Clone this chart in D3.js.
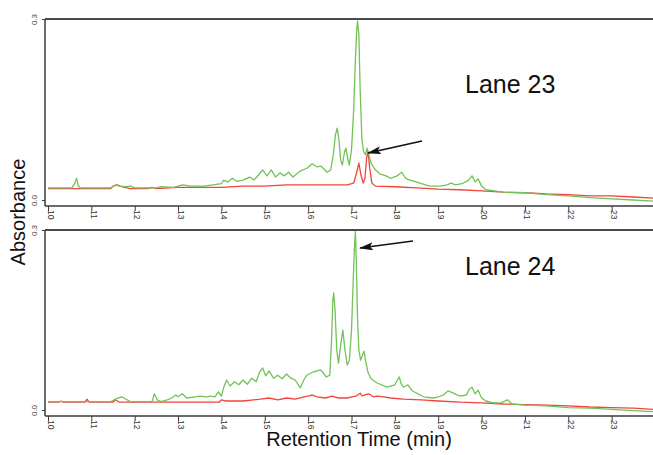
<!DOCTYPE html>
<html><head><meta charset="utf-8">
<script src="https://cdn.jsdelivr.net/npm/d3@7"></script>
<style>body{margin:0;background:#fff}svg{display:block;font-family:"Liberation Sans",Arial,sans-serif}</style>
</head><body><svg id="c" width="653" height="455"></svg>
<script>
const xTicks = [10,11,12,13,14,15,16,17,18,19,20,21,22,23];
const yTicks = [0.0, 0.3];
const laneLabels = ["Lane 23", "Lane 24"];

const l23GreenT = [10.0,10.55,10.62,10.66,10.70,10.75,11.45,11.55,11.65,11.8,11.9,12.0,12.5,12.6,12.9,13.0,13.1,13.3,13.6,13.8,14.0,14.05,14.15,14.25,14.35,14.5,14.65,14.75,14.85,14.95,15.05,15.15,15.25,15.35,15.45,15.55,15.65,15.82,15.98,16.09,16.2,16.3,16.44,16.52,16.58,16.63,16.67,16.71,16.75,16.79,16.84,16.87,16.91,16.95,17.0,17.05,17.09,17.12,17.14,17.17,17.2,17.24,17.28,17.32,17.36,17.4,17.45,17.55,17.66,17.8,17.9,18.05,18.16,18.25,18.35,18.58,18.8,19.04,19.2,19.3,19.4,19.55,19.7,19.78,19.85,19.92,20.0,20.1,20.5,21.0,21.5,22.0,22.5,23.0,23.5,24.0];
const l23GreenV = [0.020,0.020,0.028,0.036,0.023,0.020,0.020,0.025,0.023,0.022,0.023,0.020,0.020,0.022,0.021,0.023,0.025,0.023,0.023,0.025,0.027,0.033,0.030,0.036,0.031,0.033,0.038,0.033,0.041,0.050,0.040,0.050,0.038,0.045,0.040,0.046,0.038,0.048,0.053,0.060,0.055,0.056,0.046,0.050,0.075,0.108,0.119,0.100,0.066,0.058,0.080,0.086,0.070,0.058,0.083,0.149,0.232,0.282,0.297,0.274,0.182,0.100,0.080,0.075,0.086,0.075,0.061,0.050,0.043,0.040,0.036,0.040,0.046,0.036,0.033,0.028,0.023,0.023,0.025,0.028,0.025,0.027,0.033,0.040,0.030,0.035,0.023,0.017,0.013,0.012,0.009,0.007,0.004,0.002,0.000,-0.002];
const l23RedT = [10.0,11.45,11.5,11.6,11.7,11.9,12.3,12.4,12.5,13.0,13.5,14.0,14.5,15.0,15.5,16.0,16.5,16.9,17.05,17.12,17.17,17.22,17.27,17.31,17.35,17.38,17.42,17.47,17.55,18.0,18.5,19.0,19.5,20.0,20.5,21.0,21.5,22.0,22.5,23.0,23.5,24.0];
const l23RedV = [0.019,0.019,0.023,0.025,0.022,0.019,0.019,0.021,0.019,0.021,0.021,0.021,0.023,0.023,0.025,0.025,0.025,0.025,0.028,0.046,0.061,0.041,0.028,0.036,0.070,0.081,0.053,0.028,0.023,0.022,0.020,0.018,0.017,0.015,0.013,0.012,0.010,0.009,0.007,0.007,0.005,0.003];

const l24GreenT = [10.0,11.45,11.55,11.7,11.8,11.9,12.4,12.45,12.52,12.6,12.75,12.85,12.95,13.0,13.1,13.2,13.4,13.5,13.65,13.75,13.85,13.93,14.0,14.05,14.12,14.2,14.3,14.4,14.5,14.6,14.7,14.8,14.88,14.95,15.02,15.1,15.2,15.3,15.4,15.5,15.6,15.7,15.82,15.9,15.97,16.1,16.2,16.28,16.35,16.42,16.5,16.54,16.57,16.59,16.62,16.66,16.7,16.75,16.8,16.85,16.9,16.95,17.0,17.04,17.07,17.09,17.11,17.14,17.17,17.21,17.26,17.29,17.33,17.38,17.45,17.59,17.82,18.0,18.06,18.1,18.15,18.2,18.3,18.4,18.66,18.89,19.0,19.12,19.23,19.35,19.5,19.65,19.72,19.78,19.85,19.92,20.0,20.1,20.27,20.45,20.6,20.7,21.0,21.5,22.0,22.5,23.0,23.5,24.0];
const l24GreenV = [0.014,0.014,0.018,0.022,0.018,0.014,0.014,0.027,0.017,0.014,0.017,0.020,0.025,0.022,0.027,0.020,0.022,0.023,0.022,0.023,0.022,0.030,0.023,0.037,0.050,0.040,0.047,0.042,0.050,0.043,0.053,0.047,0.063,0.070,0.057,0.065,0.053,0.058,0.052,0.060,0.053,0.050,0.037,0.050,0.058,0.063,0.065,0.067,0.062,0.055,0.058,0.117,0.183,0.195,0.167,0.100,0.078,0.108,0.133,0.100,0.075,0.083,0.133,0.217,0.275,0.298,0.250,0.150,0.100,0.083,0.093,0.098,0.080,0.063,0.052,0.045,0.038,0.042,0.050,0.055,0.043,0.038,0.042,0.032,0.022,0.020,0.022,0.025,0.032,0.028,0.023,0.025,0.035,0.038,0.027,0.033,0.020,0.015,0.012,0.012,0.017,0.010,0.008,0.007,0.004,0.003,0.001,-0.001,-0.003];
const l24RedT = [10.0,10.25,10.3,10.35,10.85,10.9,10.95,11.5,11.55,11.65,13.95,14.0,14.1,14.5,14.9,15.1,15.3,15.5,15.7,15.9,16.0,16.1,16.2,16.4,16.55,16.7,16.9,17.0,17.1,17.2,17.25,17.3,17.4,17.5,17.6,17.75,17.9,18.2,18.6,19.0,19.5,20.0,20.5,21.0,21.5,22.0,22.5,23.0,23.5,24.0];
const l24RedV = [0.013,0.013,0.015,0.013,0.013,0.018,0.013,0.013,0.017,0.013,0.013,0.017,0.015,0.015,0.018,0.020,0.017,0.020,0.018,0.022,0.023,0.025,0.022,0.020,0.023,0.020,0.020,0.022,0.023,0.028,0.023,0.025,0.027,0.022,0.023,0.022,0.020,0.018,0.017,0.015,0.013,0.012,0.010,0.009,0.008,0.007,0.005,0.004,0.003,0.001];

const svg = d3.select("#c");
const W = 653;
const frameX = 45;
const x = d3.scaleLinear().domain([10, 24]).range([48, 655]);
const GREEN = "#72c257", RED = "#f0443c", AX = "#3a3a3a";

const panels = [
  {top: 19, zero: 200, bottom: 206, label: laneLabels[0], lx: 465, ly: 93,
   series: [[l23RedT, l23RedV, RED], [l23GreenT, l23GreenV, GREEN]],
   arrow: [[422, 141], [368, 153]]},
  {top: 230, zero: 410, bottom: 416, label: laneLabels[1], lx: 465, ly: 275,
   series: [[l24RedT, l24RedV, RED], [l24GreenT, l24GreenV, GREEN]],
   arrow: [[413, 241], [360, 248]]}
];

svg.append("defs").append("marker").attr("id", "ah")
  .attr("markerUnits", "userSpaceOnUse")
  .attr("viewBox", "0 0 14 8").attr("refX", 13).attr("refY", 4)
  .attr("markerWidth", 14).attr("markerHeight", 8).attr("orient", "auto")
  .append("path").attr("d", "M0,0 L14,4 L0,8 L3,4 Z").attr("fill", "#111");

panels.forEach(p => {
  const y = d3.scaleLinear().domain([0, 0.3]).range([p.zero, p.top]);
  const g = svg.append("g");
  g.append("defs").append("clipPath").attr("id", "cp" + p.top)
    .append("rect").attr("x", frameX).attr("y", p.top - 2).attr("width", W - frameX).attr("height", p.bottom - p.top + 2);
  const line = d3.line().x(d => x(d[0])).y(d => y(d[1]));
  p.series.forEach(([t, v, col]) => {
    g.append("path").attr("clip-path", `url(#cp${p.top})`)
      .attr("d", line(t.map((tt, i) => [tt, v[i]])))
      .attr("fill", "none").attr("stroke", col).attr("stroke-width", 1.3).attr("stroke-linejoin", "round");
  });
  g.append("line").attr("x1", frameX).attr("x2", W).attr("y1", p.top).attr("y2", p.top)
    .attr("stroke", "#4a4a4a").attr("stroke-width", 1.8);
  g.append("line").attr("x1", frameX).attr("x2", frameX).attr("y1", p.top).attr("y2", p.bottom)
    .attr("stroke", AX).attr("stroke-width", 1.5);
  const xa = g.append("g").attr("transform", `translate(0,${p.bottom})`)
    .call(d3.axisBottom(x).tickValues(xTicks).tickSize(5).tickFormat(d3.format("d")));
  xa.select(".domain").remove();
  xa.append("line").attr("x1", frameX).attr("x2", W).attr("stroke", AX).attr("stroke-width", 1.5);
  xa.selectAll(".tick line").attr("stroke", AX).attr("stroke-width", 1);
  xa.selectAll(".tick text").attr("fill", "#333").style("font-size", "8.5px")
    .attr("transform", "rotate(90)").attr("x", 4).attr("y", -2)
    .attr("dy", "0.35em").attr("text-anchor", "start").attr("font-family", "Liberation Sans, Arial");
  const ya = g.append("g").attr("transform", `translate(${frameX},0)`)
    .call(d3.axisLeft(y).tickValues(yTicks).tickSize(3).tickFormat(d3.format(".1f")));
  ya.select(".domain").remove();
  ya.selectAll(".tick line").attr("stroke", AX);
  ya.selectAll(".tick text").attr("fill", "#444").style("font-size", "8px")
    .attr("transform", "rotate(-90)").attr("x", 0).attr("y", -8)
    .attr("text-anchor", "middle").attr("dy", "0").attr("font-family", "Liberation Sans, Arial");
  g.append("text").attr("x", p.lx).attr("y", p.ly).text(p.label)
    .attr("font-size", 25).attr("fill", "#111");
  g.append("line").attr("x1", p.arrow[0][0]).attr("y1", p.arrow[0][1])
    .attr("x2", p.arrow[1][0]).attr("y2", p.arrow[1][1])
    .attr("stroke", "#111").attr("stroke-width", 1.5).attr("marker-end", "url(#ah)");
});

svg.append("text").attr("transform", "translate(25,212) rotate(-90)")
  .attr("text-anchor", "middle").attr("font-size", 20).attr("fill", "#111").text("Absorbance");
svg.append("text").attr("x", 359).attr("y", 446)
  .attr("text-anchor", "middle").attr("font-size", 20).attr("fill", "#111").text("Retention Time (min)");
</script></body></html>
